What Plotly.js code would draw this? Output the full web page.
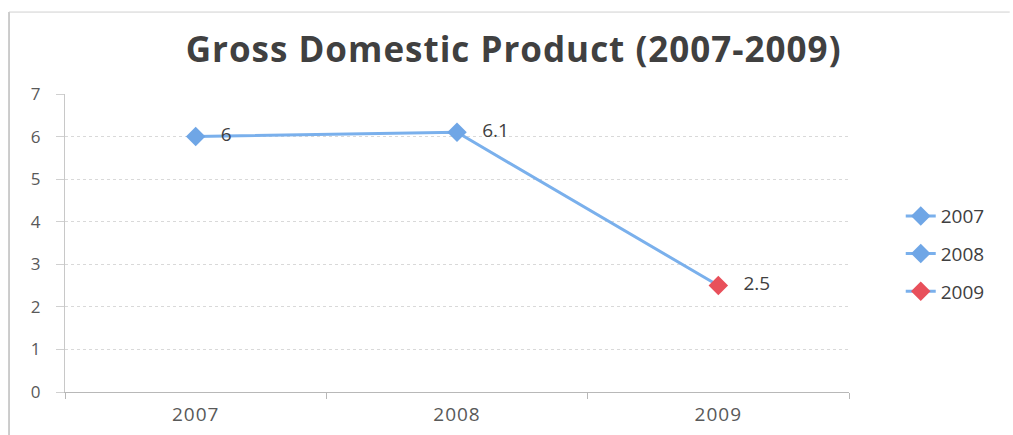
<!DOCTYPE html>
<html>
<head>
<meta charset="utf-8">
<script src="https://cdn.plot.ly/plotly-3.0.1.min.js"></script>
<style>
html,body{margin:0;padding:0;background:#fff;}
#chart{width:1013px;height:435px;}
#chart .gtitle{letter-spacing:1px;}
#chart .xtick text{letter-spacing:1px;}
</style>
</head>
<body>
<div id="chart"></div>
<script>
var categories = ['2007', '2008', '2009'];
var gdpValues = [6, 6.1, 2.5];
var valueLabels = ['6', '6.1', '2.5'];
var seriesNames = ['2007', '2008', '2009'];
var markerColors = ['#6fa6e6', '#6fa6e6', '#e8505b'];
var lineColor = '#7ab0ec';

var traces = [];
// connecting line
traces.push({
  x: categories, y: gdpValues, type: 'scatter', mode: 'lines',
  line: {color: lineColor, width: 3}, showlegend: false, hoverinfo: 'skip'
});
// per-point series (for legend + markers + labels)
for (var i = 0; i < categories.length; i++) {
  traces.push({
    x: [categories[i]], y: [gdpValues[i]], type: 'scatter', mode: 'lines+markers+text',
    name: seriesNames[i], legendgroup: 'g' + i,
    text: ['   ' + valueLabels[i]], textposition: 'middle right',
    textfont: {family: 'Open Sans, sans-serif', size: 19, color: '#404040'},
    line: {color: lineColor, width: 3},
    marker: {symbol: 'diamond', size: 15, color: markerColors[i]}
  });
}

var layout = {
  width: 1013, height: 435,
  margin: {l: 65, r: 164, t: 94, b: 43},
  paper_bgcolor: '#fff', plot_bgcolor: '#fff',
  font: {family: 'Open Sans, sans-serif', color: '#595959'},
  title: {text: '<b>Gross Domestic Product (2007-2009)</b>', x: 0.507, xanchor: 'center', y: 0.885, yanchor: 'middle',
    font: {family: 'Open Sans, sans-serif', size: 35, color: '#404040'}},
  xaxis: {
    type: 'category', range: [-0.5, 2.5], showgrid: false,
    showline: true, linecolor: '#b8b8b8', linewidth: 1,
    ticks: 'outside', tickson: 'boundaries', ticklen: 6, tickcolor: '#b8b8b8',
    ticklabelstandoff: 5,
    tickfont: {size: 19, color: '#595959'}, zeroline: false
  },
  yaxis: {
    range: [0, 7], dtick: 1, showgrid: true, gridcolor: '#d9d9d9', griddash: 'dot',
    showline: true, linecolor: '#c8c8c8', linewidth: 1,
    ticks: 'outside', ticklen: 8, tickcolor: '#d0d0d0',
    ticklabelstandoff: 12,
    tickfont: {size: 17, color: '#595959'}, zeroline: false
  },
  legend: {x: 1.066, y: 0.463, xanchor: 'left', yanchor: 'middle',
    font: {size: 19, color: '#404040'}, traceorder: 'grouped', tracegroupgap: 10,
    bgcolor: 'rgba(0,0,0,0)'},
  shapes: [
    {type: 'line', xref: 'paper', yref: 'paper', x0: -0.0714, x1: -0.0714, y0: -0.2, y1: 1.275,
      line: {color: '#bcbcbc', width: 1.5}},
    {type: 'line', xref: 'paper', yref: 'paper', x0: -0.0714, x1: 1.205, y0: 1.275, y1: 1.275,
      line: {color: '#d0d0d0', width: 1}}
  ]
};

Plotly.newPlot('chart', traces, layout, {displayModeBar: false, staticPlot: true});
</script>
</body>
</html>
